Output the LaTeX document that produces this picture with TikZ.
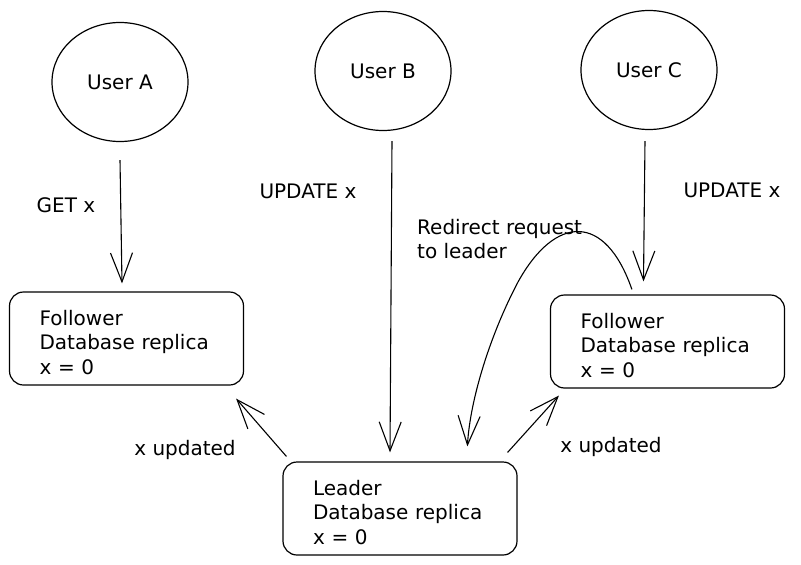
\documentclass[tikz,border=0pt]{standalone}
\usepackage{fontspec}
\setmainfont{DejaVu Sans}
\usetikzlibrary{shapes.geometric,arrows.meta,calc}
\begin{document}
\begin{tikzpicture}[x=1pt,y=-1pt,
  every node/.style={font=\fontsize{20}{24.5}\selectfont},
  user/.style={draw,ellipse,line width=1.2pt,minimum width=136pt,minimum height=119pt,inner sep=0pt},
  dbbox/.style={draw,rectangle,rounded corners=14pt,line width=1.2pt,text width=174pt,align=left,minimum height=93pt,inner xsep=30pt,inner ysep=0pt,text height=23pt},
  conn/.style={line width=1.1pt,-{Straight Barb[length=29pt,width=22pt,line width=1.1pt]}},
  lbl/.style={inner sep=0pt}]
\useasboundingbox (0,0) rectangle (801,565);
\fill[white] (0,0) rectangle (801,565);
% users
\node[user] (ua) at (120,82) {User A};
\node[user] (ub) at (383,71) {User B};
\node[user] (uc) at (649,70) {User C};
% boxes
\node[dbbox] (fl) at (126.5,338.5) {Follower\\Database replica\\x = 0};
\node[dbbox] (fr) at (667.5,341.5) {Follower\\Database replica\\x = 0};
\node[dbbox] (ld) at (400,508.5) {Leader\\Database replica\\x = 0};
% arrows from users
\draw[conn] ([yshift=-18pt]ua.south) -- ([xshift=-4.5pt,yshift=8pt]fl.north);
\draw[conn] ([xshift=9pt,yshift=-10pt]ub.south) -- ([xshift=-10pt,yshift=9pt]ld.north);
\draw[conn] ([xshift=-4pt,yshift=-11pt]uc.south) -- ([xshift=-24pt,yshift=13pt]fr.north);
% redirect
\draw[conn] ([xshift=82pt,yshift=5pt]fr.north west) .. controls (605,212) and (555,215) .. (518,282) .. controls (490,335) and (470,400) .. ([xshift=185pt,yshift=15pt]ld.north west);
% replication
\draw[conn] ([xshift=4pt,yshift=5pt]ld.north west) -- ([xshift=-8pt,yshift=-13pt]fl.south east);
\draw[conn] ([xshift=-10pt,yshift=9pt]ld.north east) -- ([xshift=9pt,yshift=-7pt]fr.south west);
% labels
\node[lbl] (l1) at (66,205) {GET x};
\node[lbl] (l2) at (308,191) {UPDATE x};
\node[lbl] (l3) at (732,190) {UPDATE x};
\node[lbl,anchor=west,align=left] (l4) at (417,239) {Redirect request\\to leader};
\node[lbl] (l5) at (185,450) {x updated};
\node[lbl] (l6) at (611,447) {x updated};
\end{tikzpicture}
\end{document}
